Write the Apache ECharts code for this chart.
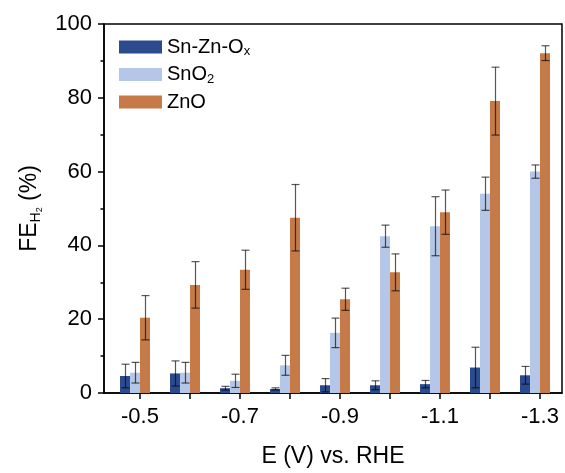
<!DOCTYPE html>
<html>
<head>
<meta charset="utf-8">
<script src="https://cdn.jsdelivr.net/npm/echarts@6/dist/echarts.min.js"></script>
<style>
  html, body { margin: 0; padding: 0; background: #fff; }
  #chart { width: 565px; height: 473px; }
</style>
</head>
<body>
<div id="chart"></div>
<script>
// Applied potential (V vs. RHE) for each group of bars
const potentials = [-0.5, -0.6, -0.7, -0.8, -0.9, -1.0, -1.1, -1.2, -1.3];
const labeledPotentials = [-0.5, -0.7, -0.9, -1.1, -1.3];

// Faradaic efficiency of H2 (%) and its error for each catalyst
const snZnOx    = [4.6, 5.3, 1.3, 1.1, 2.1, 2.1, 2.4, 6.9, 4.8];
const snZnOxErr = [3.2, 3.4, 0.5, 0.3, 1.8, 1.2, 1.0, 5.5, 2.4];
const snO2      = [5.5, 5.5, 3.3, 7.5, 16.3, 42.5, 45.2, 54.0, 60.0];
const snO2Err   = [2.8, 2.8, 1.8, 2.7, 4.0, 3.0, 8.0, 4.5, 1.8];
const znO       = [20.4, 29.3, 33.4, 47.5, 25.4, 32.7, 49.0, 79.1, 92.1];
const znOErr    = [6.0, 6.3, 5.3, 9.0, 3.0, 5.0, 6.0, 9.2, 2.0];

const yTicks = [0, 20, 40, 60, 80, 100];

const FONT = "'Liberation Sans', Arial, sans-serif";
const BAR_W = 10;
const COLORS = ['#2c4b8e', '#b4c7e8', '#c57a48'];

const groups = [
  { name: 'Sn-Zn-Ox', values: snZnOx, errors: snZnOxErr },
  { name: 'SnO2', values: snO2, errors: snO2Err },
  { name: 'ZnO', values: znO, errors: znOErr }
];

const chart = echarts.init(document.getElementById('chart'), null, { renderer: 'canvas' });

const series = [];
groups.forEach((g, k) => {
  series.push({
    name: g.name,
    type: 'bar',
    barWidth: BAR_W,
    barGap: '0%',
    itemStyle: { color: COLORS[k] },
    data: potentials.map((p, i) => [p, g.values[i]])
  });
});
// empty fourth slot in each group keeps the tick at the SnO2/ZnO boundary
series.push({
  name: 'slot',
  type: 'bar',
  barWidth: BAR_W,
  barGap: '0%',
  data: []
});

// error bars drawn over each bar
groups.forEach((g, k) => {
  const shift = (k - 1.5) * BAR_W;
  series.push({
    type: 'custom',
    z: 10,
    silent: true,
    data: potentials.map((p, i) => [p, g.values[i], g.errors[i]]),
    renderItem: function (params, api) {
      const x = api.value(0), v = api.value(1), e = api.value(2);
      const top = api.coord([x, v + e]);
      const bot = api.coord([x, Math.max(v - e, 0)]);
      const cx = Math.round(top[0] + shift) + 0.5;
      const cap = 4;
      const style = { stroke: 'rgba(0,0,0,0.66)', lineWidth: 1.2, fill: null };
      return {
        type: 'group',
        children: [
          { type: 'line', shape: { x1: cx, y1: top[1], x2: cx, y2: bot[1] }, style: style },
          { type: 'line', shape: { x1: cx - cap, y1: top[1], x2: cx + cap, y2: top[1] }, style: style },
          { type: 'line', shape: { x1: cx - cap, y1: bot[1], x2: cx + cap, y2: bot[1] }, style: style }
        ]
      };
    }
  });
});

const option = {
  backgroundColor: '#fff',
  animation: false,
  textStyle: { fontFamily: FONT },
  grid: {
    left: 104, right: 3, top: 24, bottom: 77.5,
    show: true, borderColor: '#000', borderWidth: 1.5
  },
  legend: {
    data: groups.map(g => g.name),
    orient: 'vertical',
    left: 119, top: 37,
    padding: 0,
    itemWidth: 43, itemHeight: 13, itemGap: 6.5,
    icon: 'rect',
    formatter: function (name) {
      if (name === 'Sn-Zn-Ox') return 'Sn-Zn-O{sub|x}';
      if (name === 'SnO2') return 'SnO{sub|2}';
      return name;
    },
    textStyle: {
      fontFamily: FONT, fontSize: 20, color: '#000',
      rich: {
        sub: { fontFamily: FONT, fontSize: 13, color: '#000', verticalAlign: 'bottom', padding: [9, 0, 0, 0] }
      }
    }
  },
  xAxis: {
    type: 'value',
    inverse: true,
    min: -1.344,
    max: -0.428,
    name: 'E (V) vs. RHE',
    nameLocation: 'middle',
    nameGap: 52,
    nameTextStyle: { fontFamily: FONT, fontSize: 23, color: '#000' },
    axisLine: { show: true, lineStyle: { color: '#000', width: 1.5 } },
    axisTick: { show: true, length: 6, customValues: potentials, lineStyle: { color: '#000', width: 1.5 } },
    axisLabel: {
      customValues: labeledPotentials,
      fontFamily: FONT, fontSize: 22, color: '#000', margin: 13,
      formatter: v => v.toFixed(1)
    },
    splitLine: { show: false }
  },
  yAxis: {
    type: 'value',
    min: 0,
    max: 100,
    interval: 20,
    name: 'FE{sub|H}{subsub|2} (%)',
    nameLocation: 'middle',
    nameGap: 57,
    nameRotate: 90,
    nameTextStyle: {
      fontFamily: FONT, fontSize: 23, color: '#000',
      rich: {
        sub: { fontFamily: FONT, fontSize: 14, color: '#000', padding: [12, 0, 0, 0] },
        subsub: { fontFamily: FONT, fontSize: 9, color: '#000', padding: [20, 0, 0, 0] }
      }
    },
    axisLine: { show: true, lineStyle: { color: '#000', width: 1.5 } },
    axisTick: { show: true, length: 6, lineStyle: { color: '#000', width: 1.5 } },
    minorTick: { show: true, splitNumber: 2, length: 3.5, lineStyle: { color: '#000', width: 1.5 } },
    axisLabel: {
      fontFamily: FONT, fontSize: 22, color: '#000', margin: 12,
      customValues: yTicks
    },
    splitLine: { show: false }
  },
  series: series
};

chart.setOption(option);
</script>
</body>
</html>
